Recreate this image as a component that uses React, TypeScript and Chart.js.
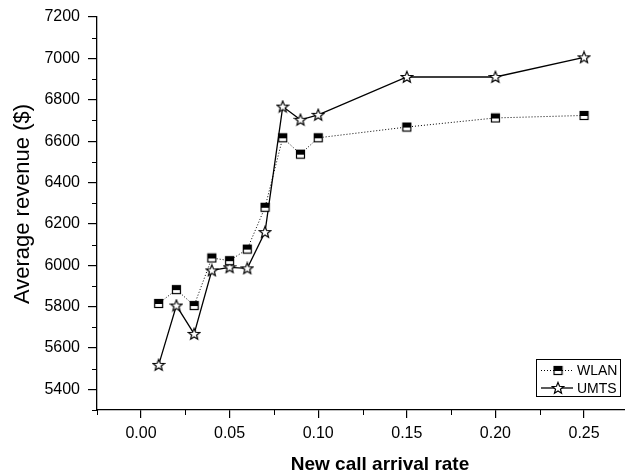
import { useEffect, useRef } from 'react';
import { Chart, registerables } from 'chart.js';

Chart.register(...registerables);

const arrivalRates = [0.01, 0.02, 0.03, 0.04, 0.05, 0.06, 0.07, 0.08, 0.09, 0.1, 0.15, 0.2, 0.25];
const wlanRevenue = [5815, 5882, 5805, 6035, 6022, 6078, 6280, 6616, 6537, 6616, 6668, 6712, 6724];
const umtsRevenue = [5518, 5805, 5668, 5975, 5990, 5985, 6160, 6767, 6703, 6727, 6910, 6910, 7005];
const seriesNames = ['WLAN', 'UMTS'];
const xTickValues = [0, 0.05, 0.1, 0.15, 0.2, 0.25];
const xMinorTickValues = [-0.025, 0.025, 0.075, 0.125, 0.175, 0.225];
const yTickValues = [5400, 5600, 5800, 6000, 6200, 6400, 6600, 6800, 7000, 7200];
const yMinorTickValues = [5300, 5500, 5700, 5900, 6100, 6300, 6500, 6700, 6900, 7100];
const xAxisTitle = 'New call arrival rate';
const yAxisTitle = 'Average revenue ($)';

function makeSquareMarker(): HTMLCanvasElement {
  const c = document.createElement('canvas');
  c.width = 11;
  c.height = 11;
  const ctx = c.getContext('2d')!;
  ctx.fillStyle = '#fff';
  ctx.fillRect(1, 1, 9, 9);
  ctx.fillStyle = '#000';
  ctx.fillRect(1, 1, 9, 5);
  ctx.strokeStyle = '#000';
  ctx.lineWidth = 1.2;
  ctx.strokeRect(1.5, 1.5, 8, 8);
  return c;
}

function makeStarMarker(): HTMLCanvasElement {
  const c = document.createElement('canvas');
  c.width = 14;
  c.height = 14;
  const ctx = c.getContext('2d')!;
  const cx = 7;
  const cy = 7.4;
  const outer = 6;
  const inner = 2.6;
  ctx.beginPath();
  for (let i = 0; i < 10; i++) {
    const r = i % 2 === 0 ? outer : inner;
    const a = -Math.PI / 2 + (i * Math.PI) / 5;
    const px = cx + r * Math.cos(a);
    const py = cy + r * Math.sin(a);
    if (i === 0) ctx.moveTo(px, py);
    else ctx.lineTo(px, py);
  }
  ctx.closePath();
  ctx.fillStyle = '#fff';
  ctx.fill();
  ctx.strokeStyle = '#000';
  ctx.lineWidth = 1.2;
  ctx.stroke();
  return c;
}

export default function App() {
  const canvasRef = useRef<HTMLCanvasElement | null>(null);

  useEffect(() => {
    document.body.style.margin = '0';
    const square = makeSquareMarker();
    const star = makeStarMarker();

    const decorations = {
      id: 'decorations',
      afterDraw(chart: any) {
        const ctx = chart.ctx as CanvasRenderingContext2D;
        const xs = chart.scales.x;
        const ys = chart.scales.y;
        const area = chart.chartArea;
        ctx.save();
        ctx.strokeStyle = '#000';
        ctx.lineWidth = 1;
        ctx.beginPath();
        for (const v of xMinorTickValues) {
          const px = Math.round(xs.getPixelForValue(v)) + 0.5;
          ctx.moveTo(px, area.bottom);
          ctx.lineTo(px, area.bottom + 5);
        }
        for (const v of yMinorTickValues) {
          const py = Math.round(ys.getPixelForValue(v)) + 0.5;
          ctx.moveTo(area.left, py);
          ctx.lineTo(area.left - 5, py);
        }
        ctx.stroke();

        // axis titles
        ctx.fillStyle = '#000';
        ctx.textAlign = 'center';
        ctx.textBaseline = 'alphabetic';
        ctx.font = 'bold 19px "Liberation Sans", Arial, sans-serif';
        ctx.fillText(xAxisTitle, (area.left + area.right) / 2 + 19, 470);
        ctx.save();
        ctx.translate(29, (area.top + area.bottom) / 2 - 9.5);
        ctx.rotate(-Math.PI / 2);
        ctx.font = '22px "Liberation Sans", Arial, sans-serif';
        ctx.fillText(yAxisTitle, 0, 0);
        ctx.restore();

        // legend box
        const bw = 84;
        const bh = 37;
        const bx = Math.round(area.right - 89);
        const by = Math.round(area.bottom - 51);
        ctx.fillStyle = '#fff';
        ctx.fillRect(bx, by, bw, bh);
        ctx.lineWidth = 1;
        ctx.strokeRect(bx + 0.5, by + 0.5, bw, bh);
        const rows = [
          { name: seriesNames[0], dash: [1, 2], width: 1, img: square, y: by + 11.5 },
          { name: seriesNames[1], dash: [], width: 1.3, img: star, y: by + 29 },
        ];
        for (const r of rows) {
          ctx.beginPath();
          ctx.setLineDash(r.dash);
          ctx.lineWidth = r.width;
          ctx.moveTo(bx + 5, r.y);
          ctx.lineTo(bx + 37, r.y);
          ctx.stroke();
          ctx.setLineDash([]);
          ctx.drawImage(r.img, bx + 22 - r.img.width / 2, r.y - r.img.height / 2);
          ctx.fillStyle = '#000';
          ctx.font = '14px "Liberation Sans", Arial, sans-serif';
          ctx.textBaseline = 'middle';
          ctx.textAlign = 'left';
          ctx.fillText(r.name, bx + 41, r.y + 1);
        }
        ctx.restore();
      },
    };

    const chart = new Chart(canvasRef.current!, {
      type: 'line',
      data: {
        datasets: [
          {
            label: seriesNames[0],
            data: arrivalRates.map((x, i) => ({ x, y: wlanRevenue[i] })),
            borderColor: '#000',
            borderWidth: 1,
            borderDash: [1, 2],
            pointStyle: square as any,
            pointRadius: 5,
            backgroundColor: '#000',
            tension: 0,
          },
          {
            label: seriesNames[1],
            data: arrivalRates.map((x, i) => ({ x, y: umtsRevenue[i] })),
            borderColor: '#000',
            borderWidth: 1.3,
            pointStyle: star as any,
            pointRadius: 6,
            backgroundColor: '#000',
            tension: 0,
          },
        ],
      },
      options: {
        animation: false,
        responsive: false,
        maintainAspectRatio: false,
        layout: { autoPadding: false, padding: { top: 17, right: 0, bottom: 0, left: 0 } },
        plugins: {
          legend: { display: false },
          tooltip: { enabled: false },
        },
        scales: {
          x: {
            type: 'linear',
            min: -0.0248,
            max: 0.2731,
            afterBuildTicks: (scale: any) => {
              scale.ticks = xTickValues.map((v) => ({ value: v }));
            },
            afterFit: (scale: any) => {
              scale.height = 63;
              scale.paddingRight = 0;
              scale.paddingLeft = 0;
            },
            grid: {
              drawOnChartArea: false,
              drawTicks: true,
              tickLength: 8,
              color: '#000',
              lineWidth: 1.2,
            },
            border: { display: true, color: '#000', width: 1.3 },
            ticks: {
              color: '#000',
              padding: 6,
              maxRotation: 0,
              autoSkip: false,
              font: { family: '"Liberation Sans", Arial, sans-serif', size: 16 },
              callback: (v: any) => Number(v).toFixed(2),
            },
            title: { display: false },
          },
          y: {
            type: 'linear',
            min: 5300,
            max: 7200,
            afterBuildTicks: (scale: any) => {
              scale.ticks = yTickValues.map((v) => ({ value: v }));
            },
            afterFit: (scale: any) => {
              scale.width = 97;
              scale.paddingTop = 0;
              scale.paddingBottom = 0;
            },
            grid: {
              drawOnChartArea: false,
              drawTicks: true,
              tickLength: 9,
              color: '#000',
              lineWidth: 1.2,
            },
            border: { display: true, color: '#000', width: 1.3 },
            ticks: {
              color: '#000',
              padding: 8,
              autoSkip: false,
              font: { family: '"Liberation Sans", Arial, sans-serif', size: 16 },
              callback: (v: any) => String(v),
            },
            title: { display: false },
          },
        },
      },
      plugins: [decorations],
    });

    return () => {
      chart.destroy();
    };
  }, []);

  return (
    <div style={{ position: 'absolute', left: 0, top: 0, width: 625, height: 473, background: '#fff' }}>
      <canvas ref={canvasRef} width={625} height={473} style={{ display: 'block', width: 625, height: 473 }} />
    </div>
  );
}
